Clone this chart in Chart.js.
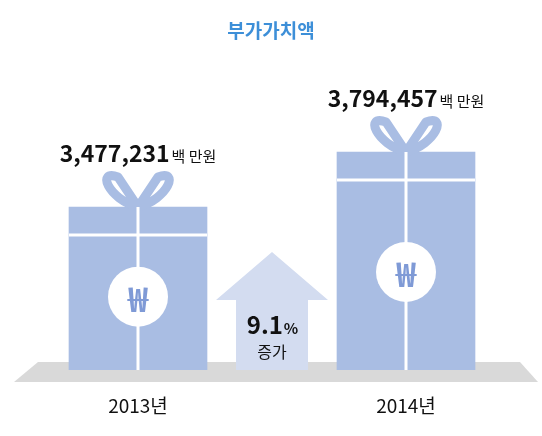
<!DOCTYPE html><html><head><meta charset="utf-8">
<script src="https://cdn.jsdelivr.net/npm/chart.js@4/dist/chart.umd.min.js"></script>
<style>body{margin:0;background:#fff}#w{width:542px;height:436px}</style></head><body><div id="w"><canvas id="c"></canvas></div>
<script>
const categories=['2013년','2014년'];
const values=[3477231,3794457];
const valueLabels=['3,477,231','3,794,457'];
const unit='백 만원';
const growth='9.1';
const F='"Noto Sans CJK KR","Noto Sans",sans-serif';
const BOX='#a9bde3';
const deco={id:'deco',
beforeDatasetsDraw(ch){const c=ch.ctx;const y0=ch.scales.y.bottom;c.save();
 c.fillStyle='#d9d9d9';c.beginPath();c.moveTo(38,y0-8);c.lineTo(520,y0-8);c.lineTo(538,y0+12);c.lineTo(14,y0+12);c.closePath();c.fill();
 const ax=(ch.getDatasetMeta(0).data[0].x+ch.getDatasetMeta(0).data[1].x)/2;
 c.fillStyle='#d3dcf0';c.beginPath();c.moveTo(ax,y0-118);c.lineTo(ax+56,y0-70);c.lineTo(ax+36,y0-70);c.lineTo(ax+36,y0);c.lineTo(ax-36,y0);c.lineTo(ax-36,y0-70);c.lineTo(ax-56,y0-70);c.closePath();c.fill();
 c.fillStyle='#111';c.textBaseline='alphabetic';
 c.font='bold 24px '+F;const w1=c.measureText(growth).width;c.font='bold 15px '+F;const w2=c.measureText('%').width;
 c.font='bold 24px '+F;c.textAlign='left';c.fillText(growth,ax-(w1+w2)/2,y0-36);c.font='bold 15px '+F;c.fillText('%',ax-(w1+w2)/2+w1+1,y0-36);
 c.textAlign='center';c.font='16px '+F;c.fillText('증가',ax,y0-12);
 c.restore();},
afterDatasetsDraw(ch){const c=ch.ctx;c.save();const bot=ch.scales.y.bottom;
 ch.getDatasetMeta(0).data.forEach((b,i)=>{const x=b.x,t=b.y,h=b.width/2;
  c.strokeStyle=BOX;c.lineWidth=9;c.lineJoin='round';
  c.beginPath();c.moveTo(x,t);c.bezierCurveTo(x-30,t-8,x-42,t-38,x-20,t-30);c.closePath();c.stroke();
  c.beginPath();c.moveTo(x,t);c.bezierCurveTo(x+30,t-8,x+42,t-38,x+20,t-30);c.closePath();c.stroke();
  c.strokeStyle='#fff';c.lineWidth=3;c.beginPath();c.moveTo(x,t);c.lineTo(x,bot);c.stroke();
  c.beginPath();c.moveTo(x-h,t+28);c.lineTo(x+h,t+28);c.stroke();
  const cy=t+(bot-t)*0.55;c.fillStyle='#fff';c.beginPath();c.arc(x,cy,30,0,Math.PI*2);c.fill();
  c.fillStyle='#7f9ad6';c.font='bold 34px '+F;c.textAlign='center';c.textBaseline='middle';c.fillText('₩',x,cy+2);
  c.fillStyle='#111';c.textBaseline='alphabetic';c.font='bold 23px '+F;const w1=c.measureText(valueLabels[i]).width;
  c.font='15px '+F;const w2=c.measureText(unit).width;const sx=x-(w1+w2+2)/2;
  c.textAlign='left';c.font='bold 23px '+F;c.fillText(valueLabels[i],sx,t-45);c.font='15px '+F;c.fillText(unit,sx+w1+2,t-45);
  c.textAlign='center';c.font='19px '+F;c.fillText(categories[i],x,bot+43);
 });
 c.fillStyle='#3d8fd8';c.font='bold 19px '+F;c.textAlign='center';c.fillText('부가가치액',271,38);
 c.restore();}};
new Chart(document.getElementById('c'),{type:'bar',
 data:{labels:categories,datasets:[{data:values,backgroundColor:BOX,barThickness:138}]},
 options:{responsive:true,maintainAspectRatio:false,animation:false,
  layout:{padding:{left:4,right:2,top:60,bottom:66}},
  plugins:{legend:{display:false},tooltip:{enabled:false}},
  scales:{x:{display:false},y:{display:false,min:2537000,max:4325000}}},
 plugins:[deco]});
</script></body></html>
